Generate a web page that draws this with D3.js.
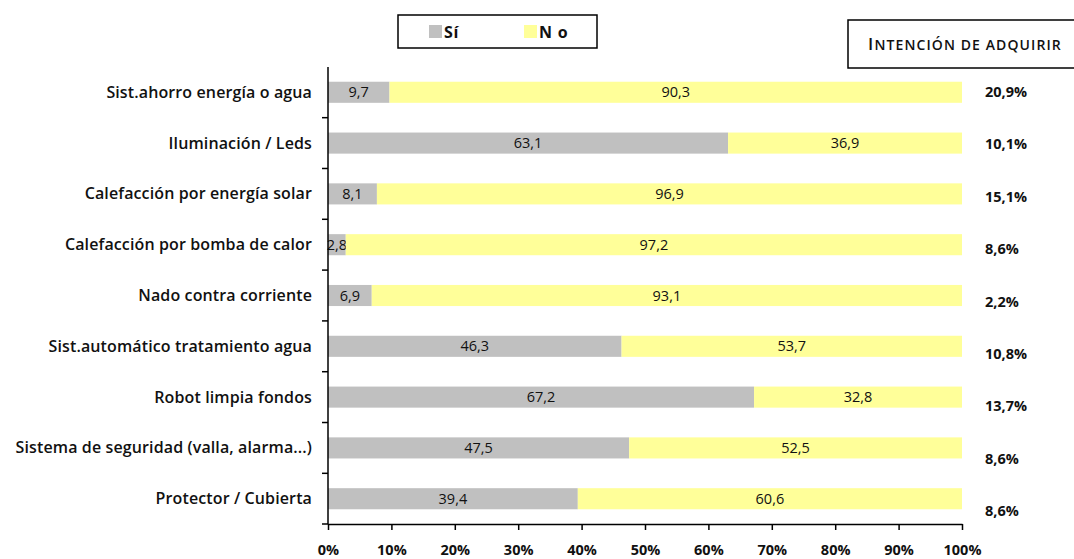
<!DOCTYPE html>
<html><head><meta charset="utf-8">
<script src="https://cdn.jsdelivr.net/npm/d3@7"></script>
<style>body{margin:0;background:#fff;} svg{display:block;font-family:"Open Sans",Arial,sans-serif;}</style>
</head><body>
<svg id="c" width="1074" height="559"></svg>
<script>
const categories = ["Sist.ahorro energía o agua","Iluminación / Leds","Calefacción por energía solar","Calefacción por bomba de calor","Nado contra corriente","Sist.automático tratamiento agua","Robot limpia fondos","Sistema de seguridad (valla, alarma...)","Protector / Cubierta"];
const siValues = [9.7,63.1,8.1,2.8,6.9,46.3,67.2,47.5,39.4];
const noValues = [90.3,36.9,96.9,97.2,93.1,53.7,32.8,52.5,60.6];
const intencion = [20.9,10.1,15.1,8.6,2.2,10.8,13.7,8.6,8.6];
const xTicks = [0,0.1,0.2,0.3,0.4,0.5,0.6,0.7,0.8,0.9,1];
const seriesNames = ["Sí","No"];
const colors = {"Sí":"#C0C0C0","No":"#FFFF99"};

const svg = d3.select("#c");
const fmt = v => v.toFixed(1).replace(".", ",");
const rows = categories.map((c,i)=>({cat:c,"Sí":siValues[i],"No":noValues[i]}));
const stack = d3.stack().keys(seriesNames).offset(d3.stackOffsetExpand)(rows);

const x = d3.scaleLinear().domain([0,1]).range([328,962]);
const y = d3.scaleBand().domain(categories).range([67,524]).paddingInner(0.585).paddingOuter(0.29);

// bars
stack.forEach(s=>{
  const g = svg.append("g");
  g.selectAll("rect").data(s).join("rect")
    .attr("x",d=>x(d[0])).attr("width",d=>x(d[1])-x(d[0]))
    .attr("y",d=>y(d.data.cat)).attr("height",y.bandwidth())
    .attr("fill",colors[s.key]);
  g.selectAll("text").data(s).join("text")
    .attr("x",d=>(x(d[0])+x(d[1]))/2)
    .attr("y",d=>y(d.data.cat)+y.bandwidth()/2+5)
    .attr("text-anchor","middle").attr("font-size",14.5).attr("fill","#111")
    .text(d=>fmt(d.data[s.key]));
});

// y axis
const ya = svg.append("g").attr("transform","translate(328,0)");
ya.append("line").attr("x1",0).attr("x2",0).attr("y1",67).attr("y2",524).attr("stroke","#000").attr("stroke-width",1.5);
const bounds = categories.map(c=>y(c)-y.step()*y.paddingInner()/2).slice(1);
bounds.push(524);
ya.selectAll("line.t").data(bounds).join("line").attr("class","t")
  .attr("x1",-6).attr("x2",0).attr("y1",d=>d).attr("y2",d=>d).attr("stroke","#000").attr("stroke-width",1.5);
svg.append("g").selectAll("text").data(categories).join("text")
  .attr("x",312).attr("y",c=>y(c)+y.bandwidth()/2+5.5)
  .attr("text-anchor","end").attr("font-size",16).attr("font-weight","600").attr("fill","#111").attr("letter-spacing",0.12)
  .text(c=>c);

// x axis
const xa = svg.append("g").attr("transform","translate(0,524)")
  .call(d3.axisBottom(x).tickValues(xTicks).tickFormat(d3.format(".0%")).tickSize(6).tickSizeOuter(0));
xa.select(".domain").attr("stroke","#000").attr("stroke-width",1.5);
xa.selectAll(".tick line").attr("stroke","#000").attr("stroke-width",1.5);
xa.selectAll(".tick text").attr("font-size",14.5).attr("font-weight","bold").attr("fill","#111").attr("dy","1.55em")
  .attr("font-family","Open Sans, Arial, sans-serif");

// intencion labels
const yi = d3.scalePoint().domain(categories).range([97,516]);
svg.append("g").selectAll("text").data(categories).join("text")
  .attr("x",985).attr("y",c=>yi(c))
  .attr("font-size",14.5).attr("font-weight","bold").attr("fill","#111")
  .text((c,i)=>fmt(intencion[i])+"%");

// legend
svg.append("rect").attr("x",398).attr("y",15).attr("width",199).attr("height",33).attr("fill","#fff").attr("stroke","#000").attr("stroke-width",1.5);
const lg = [{k:"Sí",x:429,t:"Sí"},{k:"No",x:524,t:"N o"}];
lg.forEach(l=>{
  svg.append("rect").attr("x",l.x).attr("y",25).attr("width",13).attr("height",13).attr("fill",colors[l.k]);
  svg.append("text").attr("x",l.x+15).attr("y",38).attr("font-size",16).attr("font-weight","bold").attr("fill","#111").attr("letter-spacing",0.8).text(l.t);
});

// intencion box
svg.append("rect").attr("x",848).attr("y",20).attr("width",240).attr("height",48).attr("fill","#fff").attr("stroke","#000").attr("stroke-width",1.5);
const t = svg.append("text").attr("x",965).attr("y",50).attr("text-anchor","middle").attr("fill","#111").attr("font-size",17).attr("font-weight","600").attr("letter-spacing",1.1);
t.append("tspan").text("I");
t.append("tspan").attr("font-size",14).text("NTENCIÓN DE ADQUIRIR");
</script>
</body></html>
